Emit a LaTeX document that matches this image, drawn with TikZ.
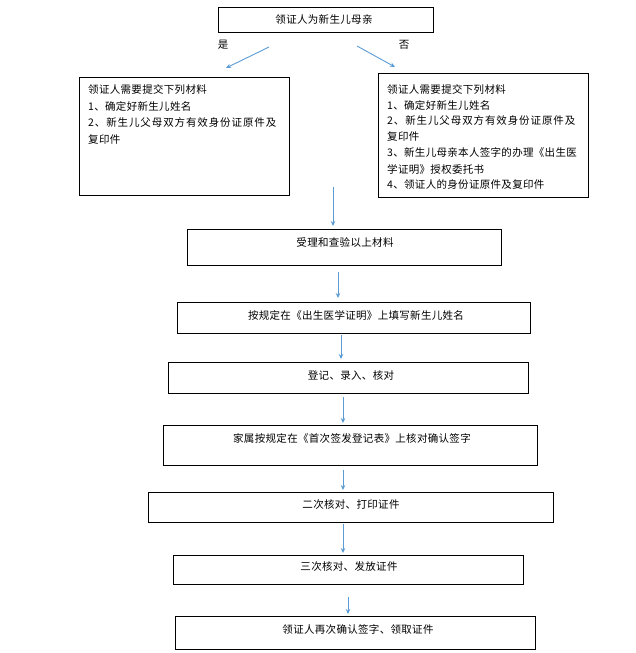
\documentclass[tikz,border=0pt]{standalone}
\usepackage{fontspec}
\setmainfont{Noto Sans CJK SC}
\newfontfamily\cjk[LetterSpace=3]{Noto Sans CJK SC}
\newfontfamily\cjkwide[LetterSpace=8.5]{Noto Sans CJK SC}
\usetikzlibrary{arrows.meta}
\definecolor{arrowblue}{HTML}{5B9BD5}
\tikzset{
  box/.style={draw=black, line width=0.9pt, fill=none, inner sep=0pt},
  txt/.style={inner sep=0pt, font=\cjk\fontsize{10.5}{12}\selectfont, text=black},
  ltxt/.style={txt, anchor=west},
  flow/.style={draw=arrowblue, line width=0.9pt, -{Stealth[length=5pt,width=4.5pt]}}
}
\newcommand{\boxat}[5]{\node[box, minimum width=#4pt-#2pt, minimum height=#5pt-#3pt] (#1) at ({(#2+#4)/2},{(#3+#5)/2}) {};}
\begin{document}
\begin{tikzpicture}[x=1pt,y=-1pt]
\useasboundingbox (0,0) rectangle (635,653);
% boxes
\boxat{top}{218}{7}{433}{32}
\boxat{left}{79}{77}{289}{195}
\boxat{right}{378}{73}{588}{197}
\boxat{b1}{187}{229}{501}{265}
\boxat{b2}{177}{302}{530}{333}
\boxat{b3}{168}{362}{528}{393}
\boxat{b4}{163}{425}{537}{465}
\boxat{b5}{148}{492}{553}{522}
\boxat{b6}{173}{555}{523}{584}
\boxat{b7}{175}{616}{535}{649}
% texts
\node[txt] (ttop) at (324,20) {领证人为新生儿母亲};
\node[txt] (yes) at (223,45) {是};
\node[txt] (no) at (404,45) {否};
\node[ltxt] (l1) at (88,89) {领证人需要提交下列材料};
\node[ltxt] (l2) at (88,106) {1、确定好新生儿姓名};
\node[ltxt, font=\cjkwide\fontsize{10.5}{12}\selectfont] (l3) at (88,123) {2、新生儿父母双方有效身份证原件及};
\node[ltxt] (l4) at (88,140) {复印件};
\node[ltxt] (r1) at (387,89) {领证人需要提交下列材料};
\node[ltxt] (r2) at (387,105) {1、确定好新生儿姓名};
\node[ltxt, font=\cjkwide\fontsize{10.5}{12}\selectfont] (r3) at (387,121) {2、新生儿父母双方有效身份证原件及};
\node[ltxt] (r4) at (387,137) {复印件};
\node[ltxt] (r5) at (387,153) {3、新生儿母亲本人签字的办理《出生医};
\node[ltxt] (r6) at (387,169) {学证明》授权委托书};
\node[ltxt] (r7) at (387,185) {4、领证人的身份证原件及复印件};
\node[txt] (t1) at (345,243) {受理和查验以上材料};
\node[txt] (t2) at (356,315) {按规定在《出生医学证明》上填写新生儿姓名};
\node[txt] (t3) at (351,375) {登记、录入、核对};
\node[txt] (t4) at (352,438) {家属按规定在《首次签发登记表》上核对确认签字};
\node[txt] (t5) at (351,505) {二次核对、打印证件};
\node[txt] (t6) at (349,567) {三次核对、发放证件};
\node[txt] (t7) at (358,629) {领证人再次确认签字、领取证件};
% arrow ends
\coordinate (a1s) at (269,47); \coordinate (a1e) at (226,68);
\coordinate (a2s) at (357,46); \coordinate (a2e) at (395,67);
\coordinate (a3s) at (333,187); \coordinate (a3e) at (333,226);
\coordinate (a4s) at (338,272); \coordinate (a4e) at (338,298);
\coordinate (a5s) at (341,335); \coordinate (a5e) at (341,359);
\coordinate (a6s) at (343,397); \coordinate (a6e) at (343,423);
\coordinate (a7s) at (343,470); \coordinate (a7e) at (343,490);
\coordinate (a8s) at (343,524); \coordinate (a8e) at (343,553);
\coordinate (a9s) at (348,597); \coordinate (a9e) at (348,614);
\draw[flow] (a1s) -- (a1e);
\draw[flow] (a2s) -- (a2e);
\draw[flow] (a3s) -- (a3e);
\draw[flow] (a4s) -- (a4e);
\draw[flow] (a5s) -- (a5e);
\draw[flow] (a6s) -- (a6e);
\draw[flow] (a7s) -- (a7e);
\draw[flow] (a8s) -- (a8e);
\draw[flow] (a9s) -- (a9e);
\end{tikzpicture}
\end{document}
